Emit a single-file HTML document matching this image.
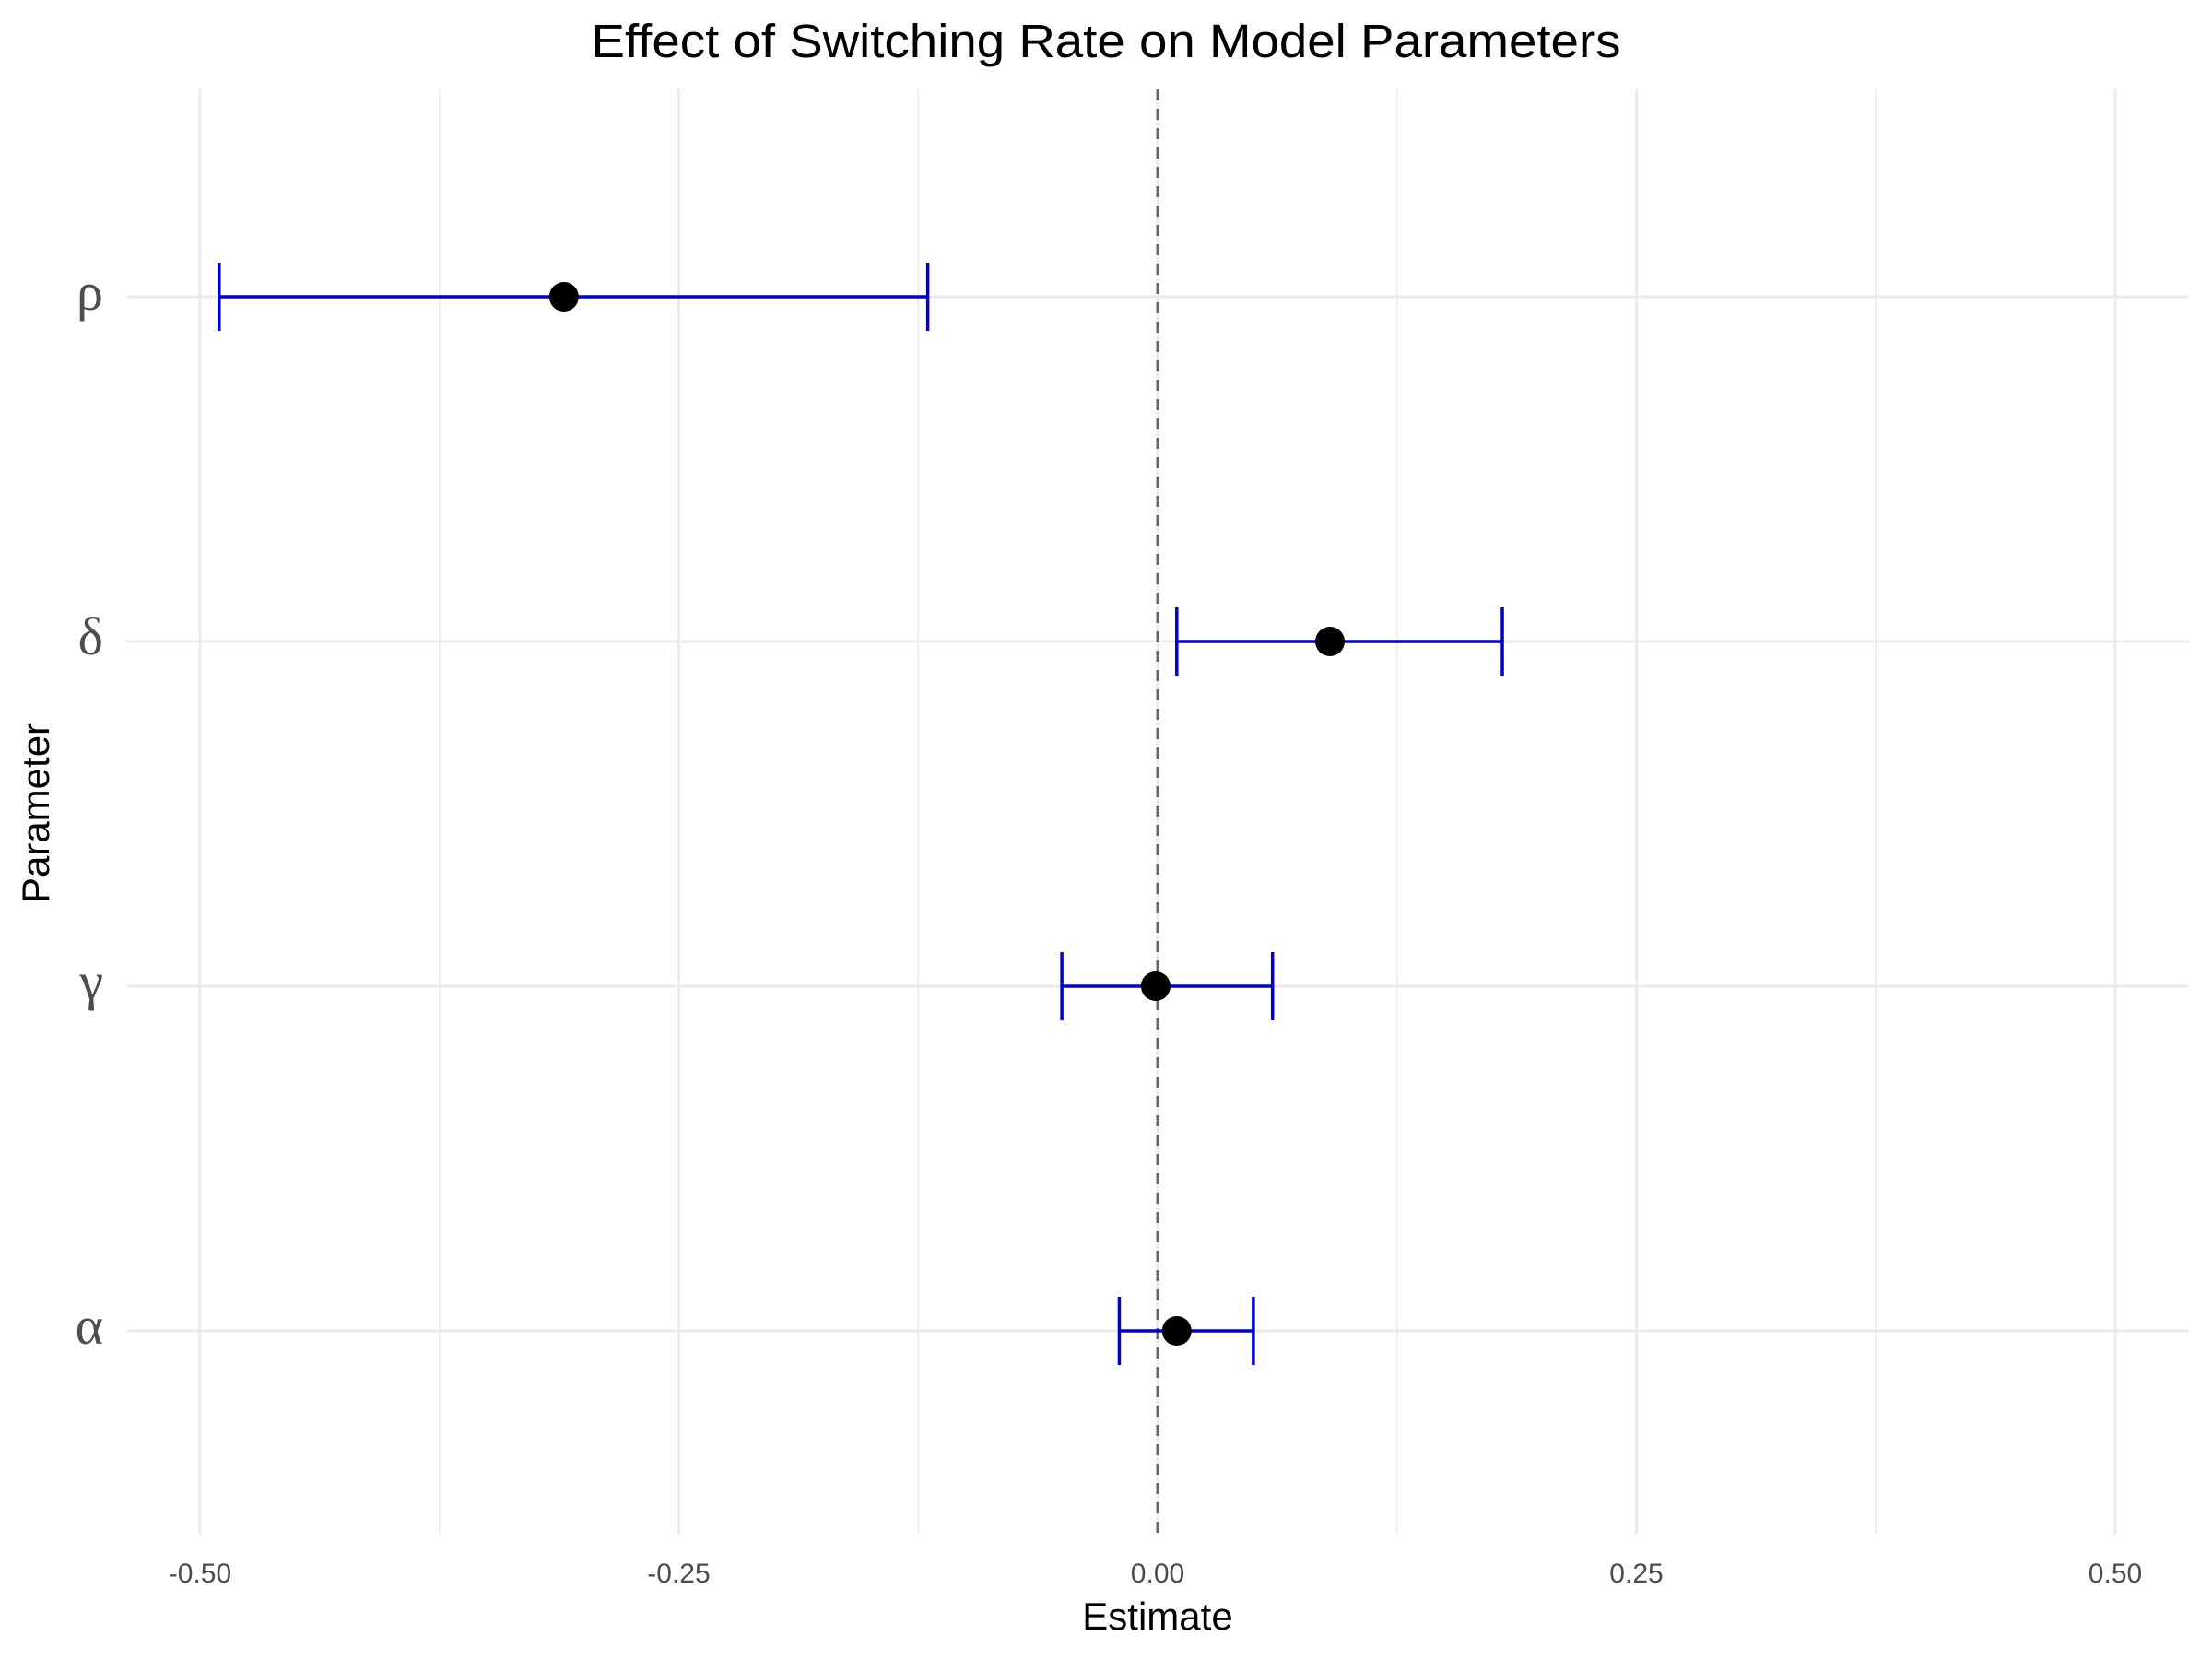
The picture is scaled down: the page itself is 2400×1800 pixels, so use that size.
<!DOCTYPE html>
<html><head><meta charset="utf-8"><style>html,body{margin:0;padding:0;background:#fff}svg{display:block}</style></head>
<body>
<svg id="chart" width="2400" height="1800" xmlns="http://www.w3.org/2000/svg" font-family="Liberation Sans, sans-serif">
<rect width="2400" height="1800" fill="#fff"/>
<text x="1200" y="62" text-anchor="middle" font-size="51" fill="#000" textLength="1117" lengthAdjust="spacingAndGlyphs">Effect of Switching Rate on Model Parameters</text>
<g id="grid"></g>
<g id="marks"></g>
<g id="axes"></g>
<text x="1256" y="1768" text-anchor="middle" font-size="42" fill="#000">Estimate</text>
<text transform="translate(53,882) rotate(-90)" text-anchor="middle" font-size="42" fill="#000">Parameter</text>
</svg>
<script>
const params = ["ρ","δ","γ","α"];
const paramNames = ["rho","delta","gamma","alpha"];
const estimates = [-0.31, 0.09, -0.001, 0.01];
const lowers = [-0.49, 0.01, -0.05, -0.02];
const uppers = [-0.12, 0.18, 0.06, 0.05];
const xTicks = [-0.5, -0.25, 0, 0.25, 0.5];
const xTickLabels = ["-0.50","-0.25","0.00","0.25","0.50"];

const NS = "http://www.w3.org/2000/svg";
const plotLeft = 137, plotRight = 2375, plotTop = 97, plotBottom = 1665;
function xs(v){ return 1256 + v * 2078; }
function ys(i){ return 322 + i * 374; }
function mk(tag, attrs, parent){ const e = document.createElementNS(NS, tag); for (const k in attrs) e.setAttribute(k, attrs[k]); parent.appendChild(e); return e; }
const grid = document.getElementById('grid'), marks = document.getElementById('marks'), axes = document.getElementById('axes');

for (let i = 0; i < xTicks.length; i++) {
  const x = xs(xTicks[i]);
  const g = mk('line', {x1:x, x2:x, y1:plotTop, y2:plotBottom, stroke:'#ebebeb', 'stroke-width':3}, grid);
  
  
  if (i < xTicks.length - 1) {
    const xm = xs((xTicks[i] + xTicks[i+1]) / 2);
    const m = mk('line', {x1:xm, x2:xm, y1:plotTop, y2:plotBottom, stroke:'#ebebeb', 'stroke-width':1.5}, grid);
    
    
  }
  const t = mk('text', {x:x, y:1717, 'text-anchor':'middle', 'font-size':30, fill:'#4d4d4d'}, axes);
  t.textContent = xTickLabels[i];
  
  
}
for (let i = 0; i < params.length; i++) {
  const y = ys(i);
  const g = mk('line', {x1:plotLeft, x2:plotRight, y1:y, y2:y, stroke:'#ebebeb', 'stroke-width':3}, grid);
  
  
  const t = mk('text', {x:112, y:y+14, 'text-anchor':'end', 'font-size':58, fill:'#4d4d4d', 'font-family':'Liberation Serif, serif'}, axes);
  t.textContent = params[i];
  
  
}
const z = mk('line', {x1:xs(0), x2:xs(0), y1:plotTop, y2:plotBottom, stroke:'#666', 'stroke-width':3, 'stroke-dasharray':'12,9'}, marks);


for (let i = 0; i < params.length; i++) {
  const y = ys(i), x1 = xs(lowers[i]), x2 = xs(uppers[i]);
  const g = mk('g', {}, marks);
  
  
  mk('line', {x1:x1, x2:x2, y1:y, y2:y, stroke:'#0000cc', 'stroke-width':3.5}, g);
  mk('line', {x1:x1, x2:x1, y1:y-37, y2:y+37, stroke:'#0000cc', 'stroke-width':3.5}, g);
  mk('line', {x1:x2, x2:x2, y1:y-37, y2:y+37, stroke:'#0000cc', 'stroke-width':3.5}, g);
  const p = mk('circle', {cx:xs(estimates[i]), cy:y, r:16, fill:'#000'}, marks);
  
  
}
</script>
</body></html>
